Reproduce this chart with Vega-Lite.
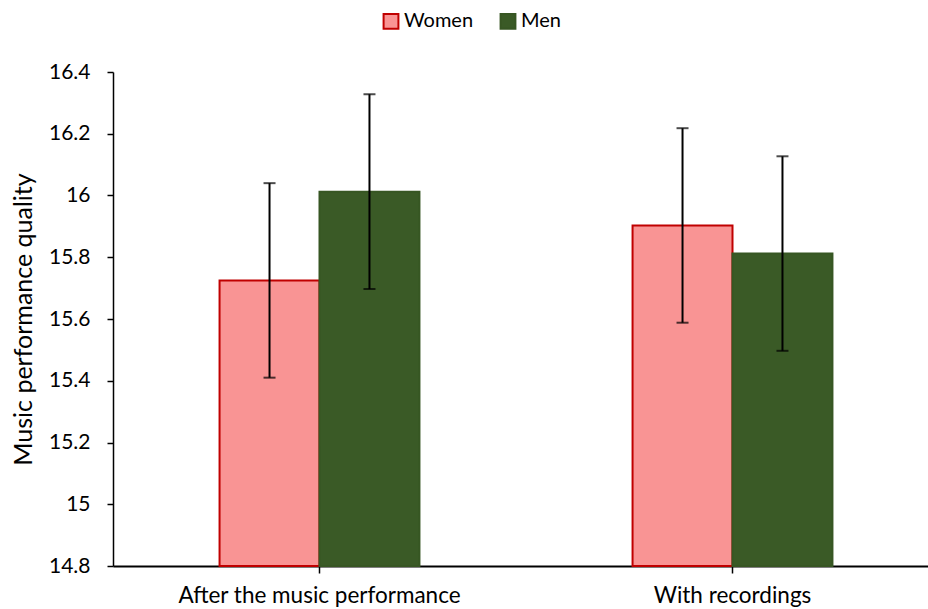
{
  "$schema": "https://vega.github.io/schema/vega-lite/v6.json",
  "width": 815,
  "height": 494,
  "autosize": {"type": "none"},
  "padding": {"left": 113, "top": 72, "right": 0, "bottom": 43},
  "background": "white",
  "config": {
    "font": "Lato",
    "view": {"stroke": null},
    "axis": {"labelFont": "Lato", "titleFont": "Lato", "labelColor": "#000000", "titleColor": "#000000"}
  },
  "data": {
    "values": [
      {"cond": "After the music performance", "sex": "Women", "mean": 15.725, "lo": 15.41, "hi": 16.04},
      {"cond": "After the music performance", "sex": "Men", "mean": 16.012, "lo": 15.697, "hi": 16.328},
      {"cond": "With recordings", "sex": "Women", "mean": 15.903, "lo": 15.588, "hi": 16.218},
      {"cond": "With recordings", "sex": "Men", "mean": 15.812, "lo": 15.497, "hi": 16.127}
    ]
  },
  "encoding": {
    "x": {
      "field": "cond",
      "type": "nominal",
      "sort": ["After the music performance", "With recordings"],
      "scale": {"range": [0, 826], "paddingInner": 0.516, "paddingOuter": 0.258},
      "axis": {
        "title": null,
        "labelAngle": 0,
        "labelFontSize": 22.5,
        "labelPadding": 11,
        "labelLimit": 500,
        "domainColor": "#000000",
        "domainWidth": 2,
        "tickColor": "#000000",
        "tickWidth": 1.5,
        "tickSize": 7
      }
    },
    "xOffset": {
      "field": "sex",
      "type": "nominal",
      "sort": ["Women", "Men"],
      "scale": {"paddingInner": 0, "paddingOuter": 0}
    }
  },
  "layer": [
    {
      "mark": {"type": "bar", "strokeWidth": 2},
      "encoding": {
        "y": {
          "field": "mean",
          "type": "quantitative",
          "scale": {"domain": [14.8, 16.4], "zero": false, "nice": false},
          "axis": {
            "title": "Music performance quality",
            "titleFontSize": 25,
            "titleFontWeight": "normal",
            "titlePadding": 12,
            "values": [14.8, 15, 15.2, 15.4, 15.6, 15.8, 16, 16.2, 16.4],
            "format": "~g",
            "labelFontSize": 21,
            "labelPadding": 17,
            "grid": false,
            "domainColor": "#000000",
            "domainWidth": 1.5,
            "tickColor": "#000000",
            "tickWidth": 1.5,
            "tickSize": 6
          }
        },
        "y2": {"datum": 14.8},
        "fill": {
          "field": "sex",
          "type": "nominal",
          "sort": ["Women", "Men"],
          "scale": {"domain": ["Women", "Men"], "range": ["#F99494", "#3A5A26"]},
          "legend": {
            "title": null,
            "orient": "none",
            "legendX": 268,
            "legendY": -61,
            "direction": "horizontal",
            "symbolType": "square",
            "symbolSize": 220,
            "symbolStrokeWidth": 2,
            "labelFontSize": 20,
            "labelColor": "#000000",
            "labelFont": "Lato",
            "columnPadding": 22,
            "labelOffset": 3
          }
        },
        "stroke": {
          "field": "sex",
          "type": "nominal",
          "sort": ["Women", "Men"],
          "scale": {"domain": ["Women", "Men"], "range": ["#C00000", "#375623"]},
          "legend": null
        }
      }
    },
    {
      "mark": {"type": "rule", "color": "#000000", "strokeWidth": 2},
      "encoding": {
        "y": {"field": "lo", "type": "quantitative"},
        "y2": {"field": "hi"}
      }
    },
    {
      "mark": {"type": "tick", "color": "#000000", "thickness": 2, "size": 12, "orient": "horizontal"},
      "encoding": {
        "y": {"field": "lo", "type": "quantitative"}
      }
    },
    {
      "mark": {"type": "tick", "color": "#000000", "thickness": 2, "size": 12, "orient": "horizontal"},
      "encoding": {
        "y": {"field": "hi", "type": "quantitative"}
      }
    }
  ]
}
